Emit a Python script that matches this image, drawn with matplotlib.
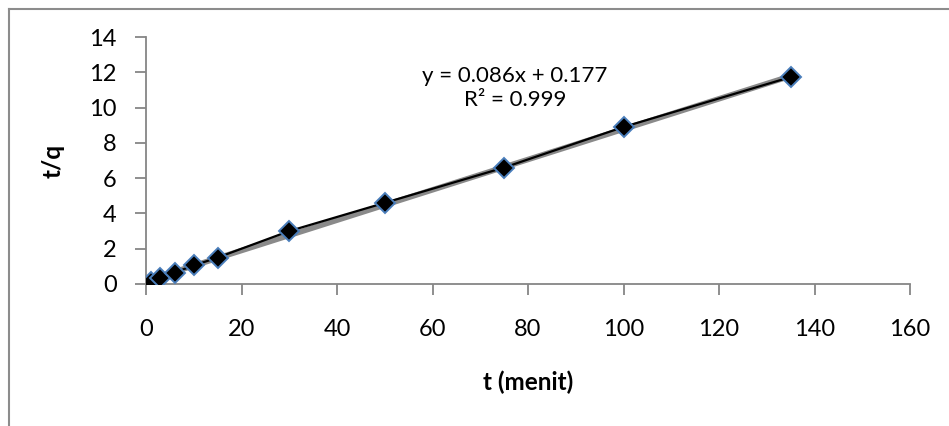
import matplotlib
matplotlib.use("Agg")
import matplotlib.pyplot as plt
import numpy as np
from matplotlib.lines import Line2D

plt.rcParams['font.family'] = ['Lato', 'DejaVu Sans']

t_values = [1, 3, 6, 10, 15, 30, 50, 75, 100, 135]
tq_values = [0.1, 0.35, 0.65, 1.05, 1.5, 3.0, 4.6, 6.6, 8.9, 11.73]
slope = 0.086
intercept = 0.177
equation_text = "y = 0.086x + 0.177\nR² = 0.999"
x_ticks = [0, 20, 40, 60, 80, 100, 120, 140, 160]
y_ticks = [0, 2, 4, 6, 8, 10, 12, 14]

fig = plt.figure(figsize=(9.49, 4.26), dpi=100)
ax = fig.add_axes([146/949, 1-284/426, (910-146)/949, (284-37)/426])

grey = '#868686'
# trendline
tx = np.array([min(t_values), max(t_values)])
ax.plot(tx, slope*tx + intercept, color='#8a8a8a', lw=4, solid_capstyle='butt', zorder=2)
ax.plot(t_values, tq_values, color='black', lw=1.6, zorder=3,
        marker='D', ms=10.5, mfc='black', mec='#4A7EBB', mew=1.4)

ax.set_xlim(0, 160)
ax.set_ylim(0, 14)
ax.set_xticks(x_ticks)
ax.set_yticks(y_ticks)
for s in ['top', 'right']:
    ax.spines[s].set_visible(False)
for s in ['left', 'bottom']:
    ax.spines[s].set_color(grey)
    ax.spines[s].set_linewidth(1.3)
ax.tick_params(axis='both', colors=grey, length=8, width=1.3, labelcolor='black', labelsize=17)
ax.tick_params(axis='x', pad=17)
ax.tick_params(axis='y', pad=13)

ax.set_xlabel('t (menit)', fontsize=17.5, fontweight='bold', labelpad=22)
ax.set_ylabel('t/q', fontsize=17.5, fontweight='bold', labelpad=18)

fig.text(515/949, 1-88/426, equation_text, ha='center', va='center',
         multialignment='center', fontsize=16, linespacing=1.3)

# outer chart frame
fl = 8.5/949
ft = 1-8.5/426
fig.add_artist(Line2D([fl, fl], [0, ft], color='#8c8c8c', lw=1.5, transform=fig.transFigure))
fig.add_artist(Line2D([fl, 1], [ft, ft], color='#8c8c8c', lw=1.5, transform=fig.transFigure))

fig.savefig('out.png', dpi=100)
